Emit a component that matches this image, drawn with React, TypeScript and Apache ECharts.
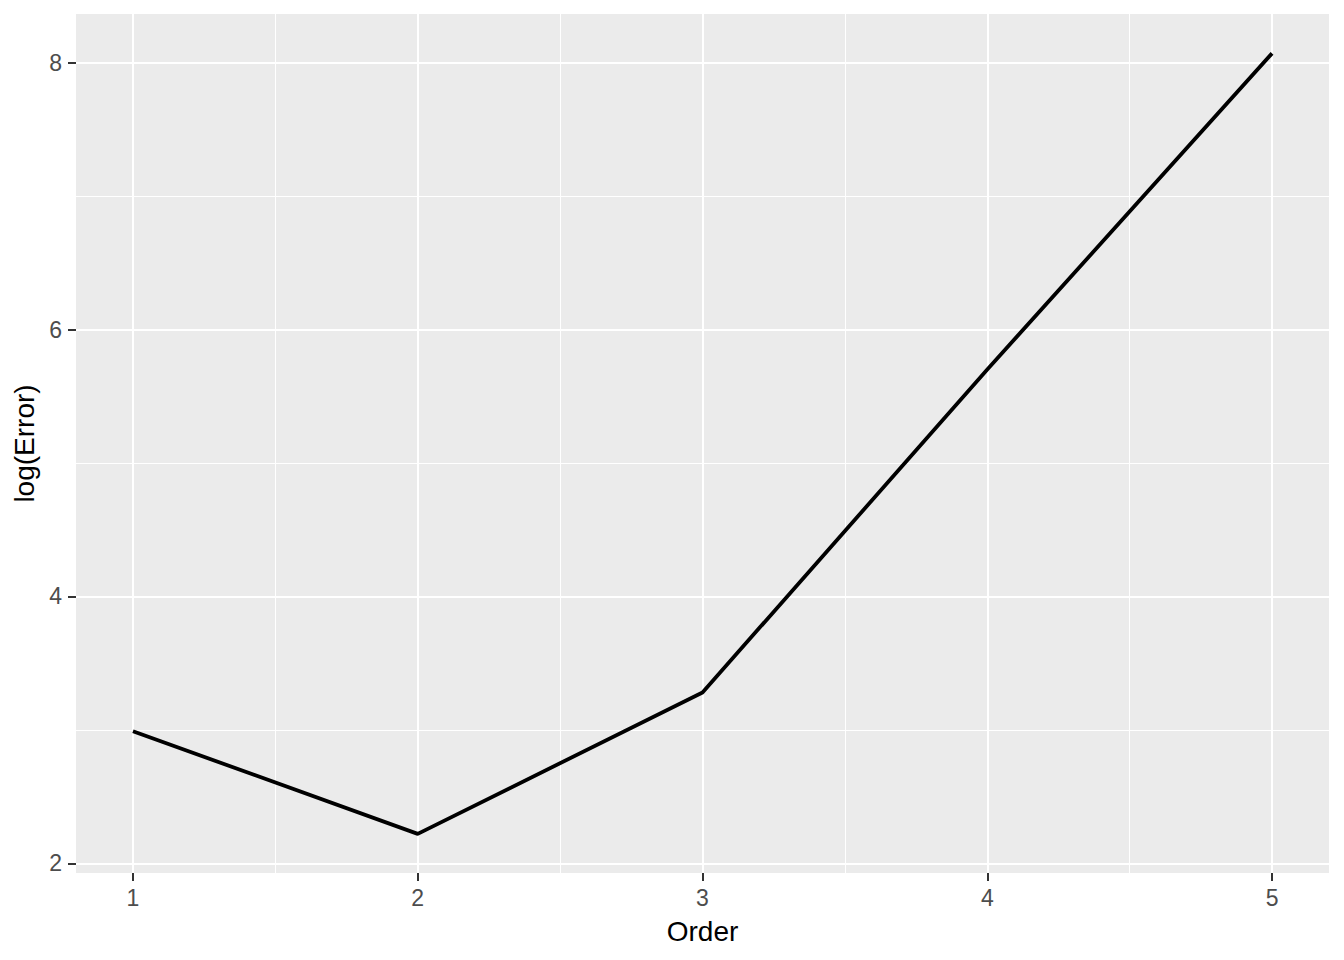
import React, { useEffect, useRef } from "react";
import * as echarts from "echarts";

const orders = [1, 2, 3, 4, 5];
const logErrors = [2.99, 2.22, 3.28, 5.7, 8.07];
const xMajor = [1, 2, 3, 4, 5];
const xMinor = [1.5, 2.5, 3.5, 4.5];
const yMajor = [2, 4, 6, 8];
const yMinor = [3, 5, 7];

export default function App() {
  const ref = useRef<HTMLDivElement>(null);
  useEffect(() => {
    document.body.style.margin = "0";
    const chart = echarts.init(ref.current!, null, { renderer: "svg" });
    const font = "'Liberation Sans', Arial, sans-serif";
    const gridLines = [
      ...xMinor.map((v) => ({ xAxis: v, lineStyle: { width: 1 } })),
      ...yMinor.map((v) => ({ yAxis: v, lineStyle: { width: 1 } })),
      ...xMajor.map((v) => ({ xAxis: v, lineStyle: { width: 2 } })),
      ...yMajor.map((v) => ({ yAxis: v, lineStyle: { width: 2 } })),
    ];
    chart.setOption({
      animation: false,
      grid: {
        left: 76,
        right: 15,
        top: 14,
        bottom: 87,
        show: true,
        backgroundColor: "#EBEBEB",
        borderWidth: 0,
      },
      xAxis: {
        type: "value",
        min: 0.8,
        max: 5.2,
        name: "Order",
        nameLocation: "middle",
        nameGap: 44,
        nameTextStyle: { color: "#000", fontSize: 28, fontFamily: font },
        axisLine: { show: false },
        splitLine: { show: false },
        axisTick: {
          show: true,
          customValues: xMajor,
          length: 8,
          lineStyle: { color: "#333333", width: 2 },
        },
        axisLabel: {
          customValues: xMajor,
          color: "#4D4D4D",
          fontSize: 23,
          fontFamily: font,
          margin: 13,
        },
      },
      yAxis: {
        type: "value",
        min: 1.927,
        max: 8.365,
        name: "log(Error)",
        nameLocation: "middle",
        nameGap: 31,
        nameTextStyle: { color: "#000", fontSize: 28, fontFamily: font },
        axisLine: { show: false },
        splitLine: { show: false },
        axisTick: {
          show: true,
          customValues: yMajor,
          length: 8,
          lineStyle: { color: "#333333", width: 2 },
        },
        axisLabel: {
          customValues: yMajor,
          color: "#4D4D4D",
          fontSize: 23,
          fontFamily: font,
          margin: 14,
        },
      },
      series: [
        {
          type: "line",
          z: 1,
          data: [],
          silent: true,
          markLine: {
            z: 1,
            silent: true,
            symbol: "none",
            label: { show: false },
            lineStyle: { color: "#FFFFFF", type: "solid" },
            emphasis: { disabled: true },
            data: gridLines,
          },
        },
        {
          type: "line",
          z: 10,
          data: orders.map((o, i) => [o, logErrors[i]]),
          showSymbol: false,
          symbol: "none",
          lineStyle: { color: "#000000", width: 3.8 },
        },
      ],
    });
    return () => chart.dispose();
  }, []);
  return <div ref={ref} style={{ width: 1344, height: 960 }} />;
}
